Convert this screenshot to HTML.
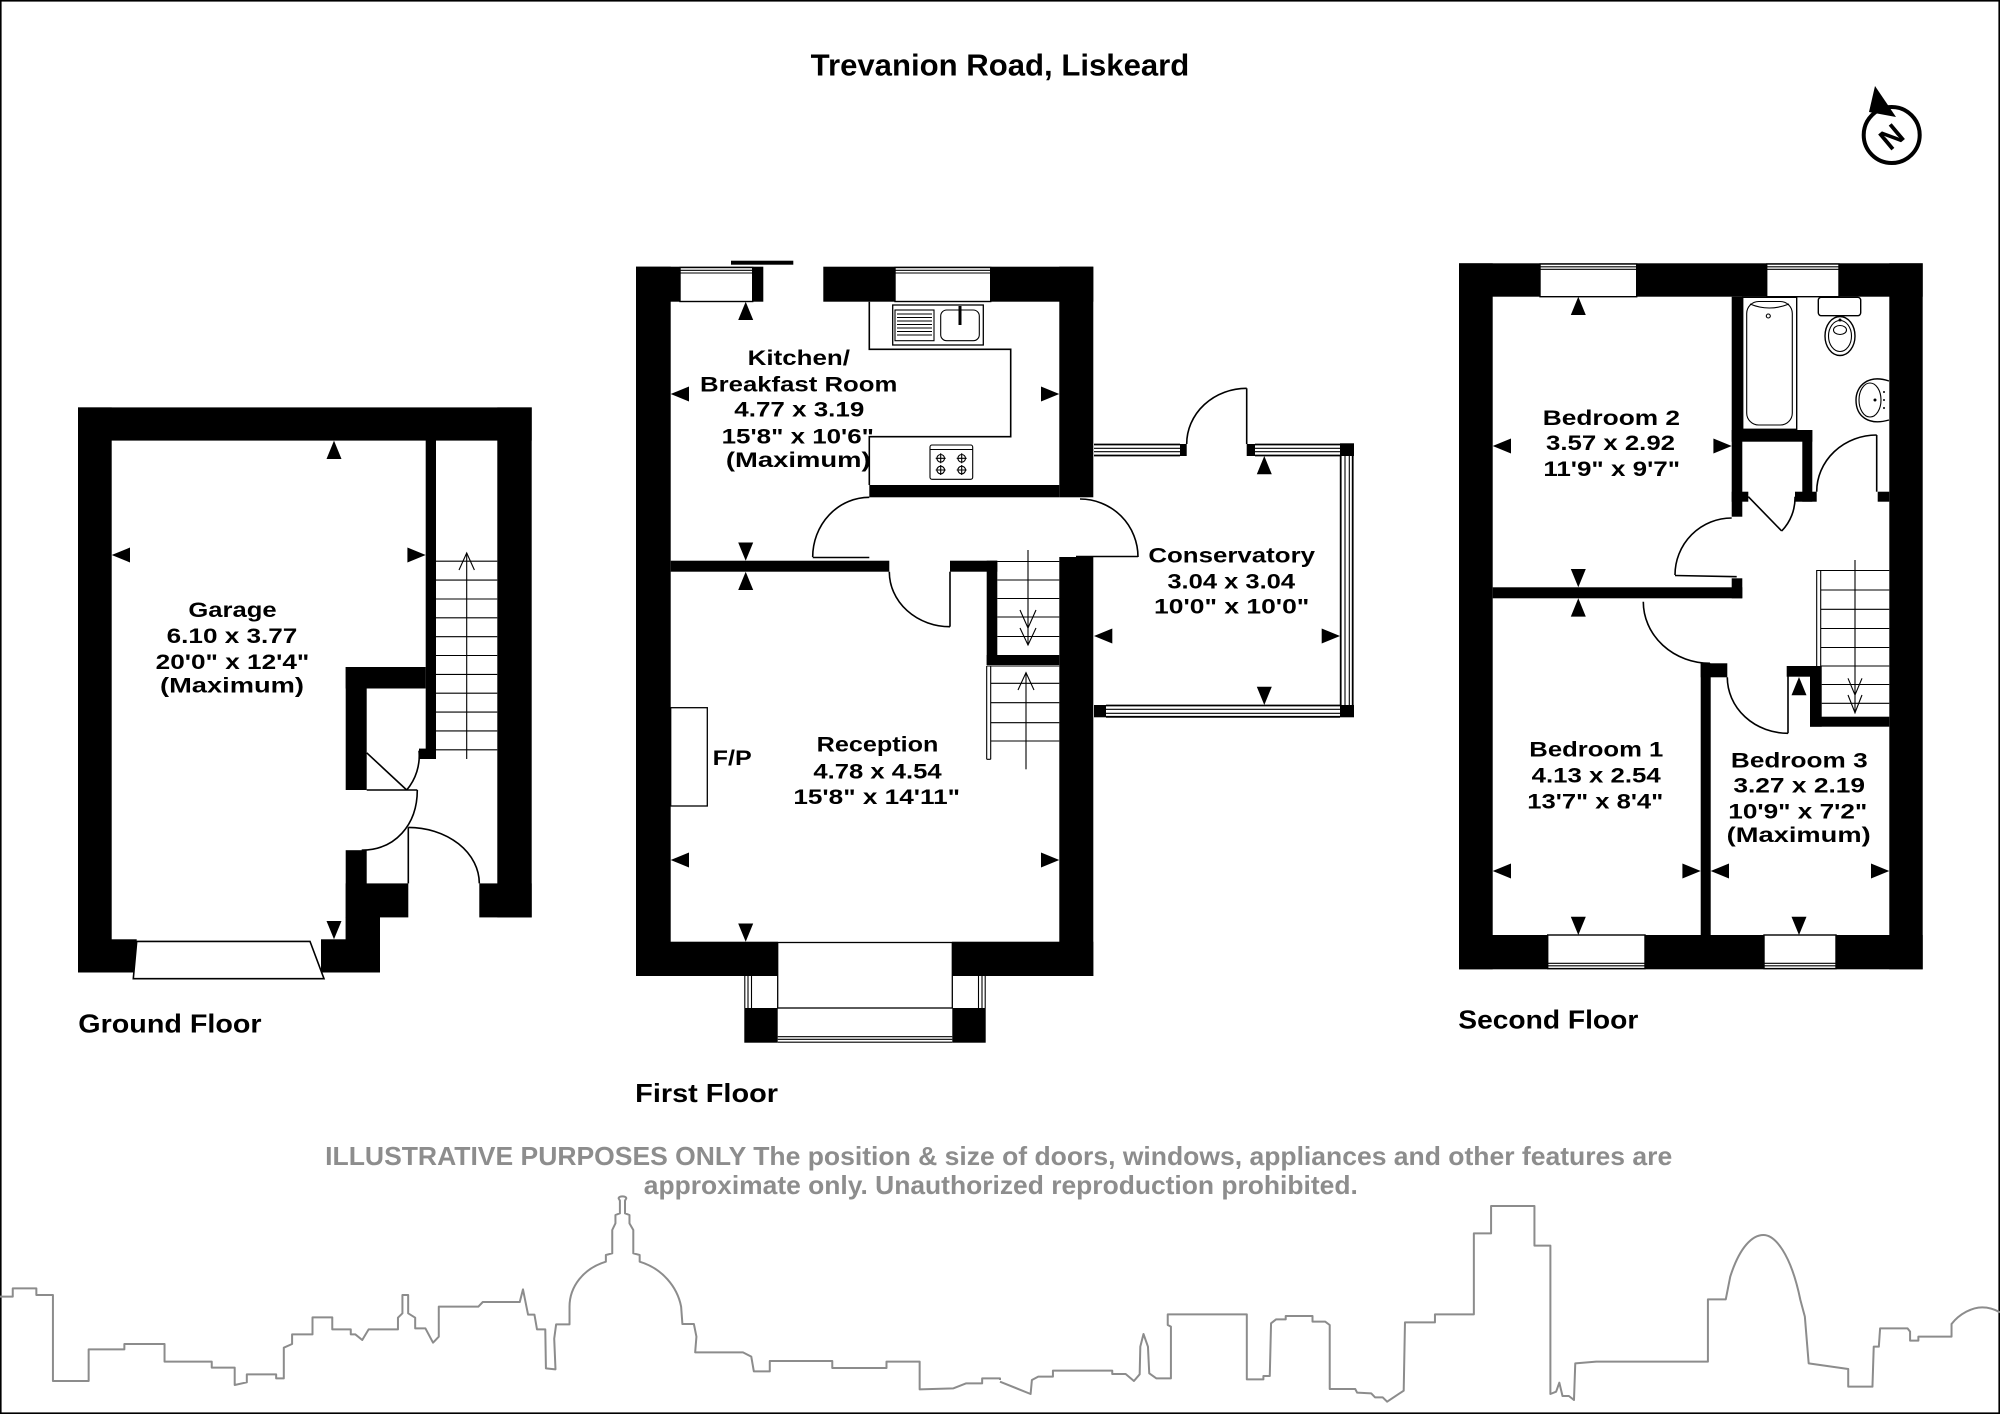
<!DOCTYPE html>
<html><head><meta charset="utf-8"><style>
html,body{margin:0;padding:0;background:#fff;}
svg{display:block}
text{font-family:"Liberation Sans",sans-serif;font-weight:bold;fill:#000;}
.t{font-size:21px;text-anchor:middle;}
.f{font-size:26px;}
.l{stroke:#000;stroke-width:1.6;fill:none;}
.lt{stroke:#000;stroke-width:1.1;fill:none;}
.win{fill:#fff;stroke:#000;stroke-width:1.4;}
.sk{fill:none;stroke:#8c8c8c;stroke-width:2;stroke-linejoin:round;}
.dis{font-size:26px;fill:#8d8d8d;text-anchor:middle;}
</style></head><body>
<svg width="2000" height="1414" viewBox="0 0 2000 1414" xmlns="http://www.w3.org/2000/svg">
<rect x="0" y="0" width="2000" height="1414" fill="#fff"/>
<rect x="0.8" y="0.8" width="1998.4" height="1412.4" fill="none" stroke="#000" stroke-width="1.6"/>

<!-- Title -->
<text x="1000" y="75.7" font-size="31" text-anchor="middle" textLength="378.6" lengthAdjust="spacingAndGlyphs">Trevanion Road, Liskeard</text>

<!-- Compass -->
<circle cx="1891.7" cy="135" r="28" fill="none" stroke="#000" stroke-width="4"/>
<polygon points="1875,86 1869,112 1896,117" fill="#000"/>
<text x="1891.7" y="147" font-size="30" text-anchor="middle" transform="rotate(-40 1891.7 137)">N</text>

<!-- ================= GROUND FLOOR ================= -->
<g fill="#000">
<rect x="78" y="407.4" width="453.7" height="33.2"/>
<rect x="78" y="407.4" width="33.7" height="565.1"/>
<rect x="497.3" y="407.4" width="34.4" height="510"/>
<rect x="479.3" y="883.4" width="52.4" height="34"/>
<rect x="425.7" y="440" width="10.3" height="319"/>
<rect x="419" y="748.6" width="17" height="10.4"/>
<rect x="345.7" y="667" width="80" height="21.5"/>
<rect x="345.7" y="667" width="21" height="123"/>
<rect x="345.7" y="850.2" width="21" height="122.3"/>
<rect x="345.7" y="883.4" width="62.6" height="34"/>
<rect x="345.7" y="917" width="34.3" height="55.5"/>
<rect x="321" y="939.3" width="59" height="33.2"/>
<rect x="78" y="939.3" width="58.7" height="33.2"/>
</g>
<polygon points="136.7,941.4 310,941.4 324,978.7 133.3,978.7" fill="#fff" stroke="#000" stroke-width="1.6"/>
<!-- stairs -->
<g class="lt">
<line x1="436" y1="561.2" x2="497.3" y2="561.2"/>
<line x1="436" y1="580.1" x2="497.3" y2="580.1"/>
<line x1="436" y1="599" x2="497.3" y2="599"/>
<line x1="436" y1="617.8" x2="497.3" y2="617.8"/>
<line x1="436" y1="636.7" x2="497.3" y2="636.7"/>
<line x1="436" y1="655.5" x2="497.3" y2="655.5"/>
<line x1="436" y1="674.4" x2="497.3" y2="674.4"/>
<line x1="436" y1="693.2" x2="497.3" y2="693.2"/>
<line x1="436" y1="712.1" x2="497.3" y2="712.1"/>
<line x1="436" y1="730.9" x2="497.3" y2="730.9"/>
<line x1="436" y1="749.8" x2="497.3" y2="749.8"/>
<line x1="466.7" y1="759" x2="466.7" y2="553"/>
<polyline points="459,570 466.7,553 474.4,570"/>
</g>
<!-- doors -->
<g class="l">
<line x1="366.7" y1="752.8" x2="406.7" y2="790"/>
<path d="M406.7,790 A53,53 0 0 0 419,750.7"/>
<line x1="366.7" y1="790" x2="417.3" y2="790"/>
<path d="M417.3,790 C417.3,825 395,850 361.7,850.2"/>
<line x1="408.3" y1="827.4" x2="408.3" y2="883.4"/>
<path d="M408.3,827.4 A71,56 0 0 1 479.3,883.4"/>
</g>
<!-- markers -->
<g fill="#000">
<polygon points="334,440.6 326.5,459 341.5,459"/>
<polygon points="111.7,555 130,547.5 130,562.5"/>
<polygon points="425.7,555 407.4,547.5 407.4,562.5"/>
<polygon points="334,939.3 326.5,921 341.5,921"/>
</g>
<text class="t" x="232.5" y="617.2" textLength="88.3" lengthAdjust="spacingAndGlyphs">Garage</text>
<text class="t" x="232" y="642.9" textLength="130.7" lengthAdjust="spacingAndGlyphs">6.10 x 3.77</text>
<text class="t" x="232.5" y="669" textLength="153.6" lengthAdjust="spacingAndGlyphs">20'0" x 12'4"</text>
<text class="t" x="232" y="692.6" textLength="144" lengthAdjust="spacingAndGlyphs">(Maximum)</text>
<text class="f" x="78.3" y="1032.6" textLength="183.3" lengthAdjust="spacingAndGlyphs">Ground Floor</text>

<!-- ================= FIRST FLOOR ================= -->
<g fill="#000">
<rect x="636" y="266.7" width="34.7" height="709.3"/>
<rect x="636" y="266.7" width="127.3" height="35"/>
<rect x="823.3" y="266.7" width="270" height="35"/>
<rect x="1059.3" y="266.7" width="34" height="230.6"/>
<rect x="1059.3" y="557" width="34" height="419"/>
<rect x="869.3" y="485" width="190" height="12.3"/>
<rect x="670.7" y="560.7" width="218.6" height="11"/>
<rect x="950" y="560.7" width="47.3" height="11"/>
<rect x="986.7" y="560.7" width="10.6" height="104.3"/>
<rect x="986.7" y="655" width="72.6" height="10"/>
<rect x="636" y="941.7" width="141.7" height="34.3"/>
<rect x="952.3" y="941.7" width="141" height="34.3"/>
<rect x="744.3" y="1008" width="33.4" height="34.7"/>
<rect x="952.3" y="1008" width="33.4" height="34.7"/>
<rect x="731" y="260.7" width="62.3" height="4"/>
</g>
<!-- top windows -->
<rect class="win" x="680" y="267.5" width="72.7" height="34"/>
<line class="lt" x1="680" y1="270.3" x2="752.7" y2="270.3"/>
<line class="lt" x1="680" y1="273" x2="752.7" y2="273"/>
<rect class="win" x="895" y="267.5" width="95.7" height="34"/>
<line class="lt" x1="895" y1="270.3" x2="990.7" y2="270.3"/>
<line class="lt" x1="895" y1="273" x2="990.7" y2="273"/>
<!-- kitchen counter -->
<polyline class="l" points="869.3,301.7 869.3,349.3 1010.7,349.3 1010.7,436.7 869.3,436.7 869.3,485"/>
<!-- sink -->
<rect class="l" x="892.7" y="305" width="90.6" height="40" style="stroke-width:1.3"/>
<rect class="lt" x="895" y="310" width="39" height="30.7"/>
<g class="lt">
<line x1="897" y1="314" x2="932" y2="314"/>
<line x1="897" y1="317.5" x2="932" y2="317.5"/>
<line x1="897" y1="321" x2="932" y2="321"/>
<line x1="897" y1="324.5" x2="932" y2="324.5"/>
<line x1="897" y1="328" x2="932" y2="328"/>
<line x1="897" y1="331.5" x2="932" y2="331.5"/>
<line x1="897" y1="335" x2="932" y2="335"/>
</g>
<rect class="lt" x="940.7" y="310" width="38.6" height="30.7" rx="6"/>
<line x1="960" y1="306" x2="960" y2="325" stroke="#000" stroke-width="3"/>
<!-- hob -->
<rect class="lt" x="930" y="445" width="42.7" height="34.3" rx="2"/>
<line class="lt" x1="930" y1="449.5" x2="972.7" y2="449.5"/>
<g class="lt">
<circle cx="940.7" cy="458.3" r="3.8"/><circle cx="961.7" cy="458.3" r="3.8"/>
<circle cx="940.7" cy="470" r="3.8"/><circle cx="961.7" cy="470" r="3.8"/>
<path d="M935.7,458.3h10M940.7,453.3v10M956.7,458.3h10M961.7,453.3v10M935.7,470h10M940.7,465v10M956.7,470h10M961.7,465v10"/>
</g>
<!-- doors -->
<g class="l">
<path d="M812.7,557 A56.6,59.7 0 0 1 869.3,497.3"/>
<line x1="812.7" y1="557.5" x2="869.3" y2="557.5"/>
<path d="M1080,499 A58,58 0 0 1 1138,557"/>
<line x1="1076" y1="556.5" x2="1138" y2="556.5"/>
<line x1="950" y1="571.7" x2="950" y2="626.7"/>
<path d="M889.3,571.7 A60.7,55 0 0 0 950,626.7"/>
</g>
<!-- stairs -->
<g class="lt">
<line x1="997.3" y1="561.5" x2="1059.3" y2="561.5"/>
<line x1="997.3" y1="580" x2="1059.3" y2="580"/>
<line x1="997.3" y1="598.5" x2="1059.3" y2="598.5"/>
<line x1="997.3" y1="617" x2="1059.3" y2="617"/>
<line x1="997.3" y1="636.5" x2="1059.3" y2="636.5"/>
<line x1="1028" y1="550" x2="1028" y2="645"/>
<polyline points="1020,610 1028,628 1036,610"/>
<polyline points="1020,628 1028,645 1036,628"/>
<line x1="986.7" y1="666" x2="986.7" y2="759.3"/>
<line x1="990.7" y1="666" x2="990.7" y2="759.3"/>
<line x1="986.7" y1="759.3" x2="990.7" y2="759.3"/>
<line x1="986.7" y1="666" x2="1059.3" y2="666"/>
<line x1="990.7" y1="683.3" x2="1059.3" y2="683.3"/>
<line x1="990.7" y1="702.7" x2="1059.3" y2="702.7"/>
<line x1="990.7" y1="722.7" x2="1059.3" y2="722.7"/>
<line x1="990.7" y1="741" x2="1059.3" y2="741"/>
<line x1="1026" y1="769.3" x2="1026" y2="672.7"/>
<polyline points="1018,690 1026,672.7 1034,690"/>
</g>
<!-- F/P -->
<rect class="l" x="670.7" y="707.7" width="36.6" height="98.3" style="stroke-width:1.3"/>
<!-- bay window -->
<rect class="l" x="777.7" y="942.5" width="174.6" height="65.5" style="stroke-width:1.3"/>
<g class="lt">
<line x1="777.7" y1="1036.7" x2="952.3" y2="1036.7"/>
<line x1="777.7" y1="1039.3" x2="952.3" y2="1039.3"/>
<line x1="777.7" y1="1042.2" x2="952.3" y2="1042.2"/>
<line x1="744.8" y1="976" x2="744.8" y2="1008"/>
<line x1="748" y1="976" x2="748" y2="1008"/>
<line x1="751.5" y1="976" x2="751.5" y2="1008"/>
<line x1="985.2" y1="976" x2="985.2" y2="1008"/>
<line x1="982" y1="976" x2="982" y2="1008"/>
<line x1="978.5" y1="976" x2="978.5" y2="1008"/>
</g>
<!-- conservatory -->
<g class="lt">
<line x1="1094" y1="444.5" x2="1180" y2="444.5" style="stroke-width:1.8"/>
<line x1="1094" y1="448.3" x2="1180" y2="448.3"/>
<line x1="1094" y1="451.7" x2="1180" y2="451.7"/>
<line x1="1094" y1="455.5" x2="1180" y2="455.5" style="stroke-width:1.8"/>
<line x1="1255" y1="444.5" x2="1340" y2="444.5" style="stroke-width:1.8"/>
<line x1="1255" y1="448.3" x2="1340" y2="448.3"/>
<line x1="1255" y1="451.7" x2="1340" y2="451.7"/>
<line x1="1255" y1="455.5" x2="1340" y2="455.5" style="stroke-width:1.8"/>
<line x1="1340.7" y1="456" x2="1340.7" y2="705" style="stroke-width:1.8"/>
<line x1="1345" y1="456" x2="1345" y2="705"/>
<line x1="1349.3" y1="456" x2="1349.3" y2="705"/>
<line x1="1352.7" y1="456" x2="1352.7" y2="705" style="stroke-width:1.8"/>
<line x1="1106" y1="705.5" x2="1340" y2="705.5" style="stroke-width:1.8"/>
<line x1="1106" y1="709.3" x2="1340" y2="709.3"/>
<line x1="1106" y1="713.3" x2="1340" y2="713.3"/>
<line x1="1106" y1="716.8" x2="1340" y2="716.8" style="stroke-width:1.8"/>
</g>
<g fill="#000">
<rect x="1180" y="444" width="6.7" height="12"/>
<rect x="1246.7" y="444" width="8.3" height="12"/>
<rect x="1340" y="443.3" width="14" height="12.7"/>
<rect x="1340" y="705" width="14" height="12.3"/>
<rect x="1094" y="705" width="12" height="12.3"/>
</g>
<g class="l">
<line x1="1246.7" y1="388.3" x2="1246.7" y2="444"/>
<path d="M1246.7,388.3 A60,55.7 0 0 0 1186.7,444"/>
</g>
<!-- markers first floor -->
<g fill="#000">
<polygon points="745.7,301.7 738.2,320 753.2,320"/>
<polygon points="670.7,394 689,386.5 689,401.5"/>
<polygon points="1059.3,394 1041,386.5 1041,401.5"/>
<polygon points="745.7,560.7 738.2,542.5 753.2,542.5"/>
<polygon points="745.7,571.7 738.2,590 753.2,590"/>
<polygon points="670.7,860 689,852.5 689,867.5"/>
<polygon points="1059.3,860 1041,852.5 1041,867.5"/>
<polygon points="745.7,941.7 738.2,923.5 753.2,923.5"/>
<polygon points="1264.3,456 1256.8,474.3 1271.8,474.3"/>
<polygon points="1094,636 1112.3,628.5 1112.3,643.5"/>
<polygon points="1340,636 1321.7,628.5 1321.7,643.5"/>
<polygon points="1264.3,705 1256.8,686.7 1271.8,686.7"/>
</g>
<text class="t" x="798.8" y="365" textLength="102.3" lengthAdjust="spacingAndGlyphs">Kitchen/</text>
<text class="t" x="798.7" y="391.7" textLength="197.3" lengthAdjust="spacingAndGlyphs">Breakfast Room</text>
<text class="t" x="799.3" y="416.7" textLength="130" lengthAdjust="spacingAndGlyphs">4.77 x 3.19</text>
<text class="t" x="797.8" y="443.3" textLength="152.3" lengthAdjust="spacingAndGlyphs">15'8" x 10'6"</text>
<text class="t" x="798.3" y="467" textLength="144.7" lengthAdjust="spacingAndGlyphs">(Maximum)</text>
<text class="t" x="877.5" y="751.7" textLength="121.7" lengthAdjust="spacingAndGlyphs">Reception</text>
<text class="t" x="877.5" y="778.3" textLength="128.3" lengthAdjust="spacingAndGlyphs">4.78 x 4.54</text>
<text class="t" x="876.7" y="804" textLength="166.7" lengthAdjust="spacingAndGlyphs">15'8" x 14'11"</text>
<text x="712.7" y="765" font-size="21" textLength="39" lengthAdjust="spacingAndGlyphs">F/P</text>
<text class="t" x="1231.7" y="562.7" textLength="166.7" lengthAdjust="spacingAndGlyphs">Conservatory</text>
<text class="t" x="1231.2" y="588.3" textLength="127.7" lengthAdjust="spacingAndGlyphs">3.04 x 3.04</text>
<text class="t" x="1231.7" y="613.3" textLength="155.3" lengthAdjust="spacingAndGlyphs">10'0" x 10'0"</text>
<text class="f" x="635.2" y="1102" textLength="142.8" lengthAdjust="spacingAndGlyphs">First Floor</text>

<!-- ================= SECOND FLOOR ================= -->
<g fill="#000">
<rect x="1459" y="263.3" width="463.7" height="33.4"/>
<rect x="1459" y="263.3" width="33.7" height="706"/>
<rect x="1889.3" y="263.3" width="33.4" height="706"/>
<rect x="1459" y="935" width="463.7" height="34.3"/>
<rect x="1731.7" y="296.7" width="10.6" height="220"/>
<rect x="1731.7" y="430" width="80.6" height="11.7"/>
<rect x="1802.3" y="430" width="10" height="71.7"/>
<rect x="1795" y="491.7" width="21.7" height="10"/>
<rect x="1731.7" y="491.7" width="16.6" height="10"/>
<rect x="1877.7" y="491.7" width="11.6" height="10"/>
<rect x="1731.7" y="578.3" width="10.6" height="20"/>
<rect x="1492.7" y="587.3" width="249.6" height="11"/>
<rect x="1700.7" y="663.3" width="10" height="271.7"/>
<rect x="1700.7" y="663.3" width="26.6" height="14"/>
<rect x="1786.7" y="666" width="25" height="10.7"/>
<rect x="1810" y="666" width="11.7" height="60.7"/>
<rect x="1810" y="716.7" width="79.3" height="10"/>
</g>
<!-- windows -->
<rect class="win" x="1540" y="264" width="96.7" height="32.7"/>
<line class="lt" x1="1540" y1="266.8" x2="1636.7" y2="266.8"/>
<line class="lt" x1="1540" y1="269.3" x2="1636.7" y2="269.3"/>
<rect class="win" x="1766.7" y="264" width="72.3" height="32.7"/>
<line class="lt" x1="1766.7" y1="266.8" x2="1839" y2="266.8"/>
<line class="lt" x1="1766.7" y1="269.3" x2="1839" y2="269.3"/>
<rect class="win" x="1547.7" y="935" width="97.3" height="33.6"/>
<line class="lt" x1="1547.7" y1="965.8" x2="1645" y2="965.8"/>
<line class="lt" x1="1547.7" y1="963.3" x2="1645" y2="963.3"/>
<rect class="win" x="1764" y="935" width="72" height="33.6"/>
<line class="lt" x1="1764" y1="965.8" x2="1836" y2="965.8"/>
<line class="lt" x1="1764" y1="963.3" x2="1836" y2="963.3"/>
<!-- bathroom fittings -->
<rect class="lt" x="1742.7" y="297.3" width="54" height="132" style="stroke-width:1.4"/>
<rect class="lt" x="1746.7" y="301.5" width="45.6" height="123.5" rx="12"/>
<path class="lt" d="M1750,304 Q1769,312 1789,304"/>
<circle class="lt" cx="1768.3" cy="316" r="2"/>
<rect class="lt" x="1818.3" y="297.3" width="42.4" height="18.4" rx="3" style="stroke-width:1.4"/>
<ellipse class="lt" cx="1840" cy="336" rx="15" ry="19.5" style="stroke-width:1.4"/>
<ellipse class="lt" cx="1840" cy="336" rx="11.5" ry="15.5"/>
<ellipse class="lt" cx="1840" cy="330" rx="6.5" ry="4.5"/>
<circle cx="1840" cy="320" r="1.5" fill="#000"/>
<path class="lt" d="M1889,381 C1868,374 1856,386 1856,400 C1856,416 1868,426 1889,420" style="stroke-width:1.4"/>
<ellipse class="lt" cx="1870" cy="400" rx="11" ry="17"/>
<circle cx="1875" cy="400" r="1.5" fill="#000"/>
<circle cx="1884" cy="392" r="1" fill="#000"/><circle cx="1884" cy="400" r="1" fill="#000"/><circle cx="1884" cy="408" r="1" fill="#000"/>
<!-- doors -->
<g class="l">
<path d="M1731.7,518 A56.7,57 0 0 0 1675,575"/>
<line x1="1675" y1="575.5" x2="1736.7" y2="576.7"/>
<line x1="1876.7" y1="435" x2="1876.7" y2="491.7"/>
<path d="M1876.7,435 A60,56.7 0 0 0 1816.7,491.7"/>
<line x1="1748.3" y1="496.7" x2="1781.7" y2="531"/>
<path d="M1781.7,531 A47.5,47.5 0 0 0 1795,496.7"/>
<path d="M1643.3,601.7 A66.7,61.6 0 0 0 1710,663.3"/>
<line x1="1788" y1="666.7" x2="1788" y2="733.3"/>
<path d="M1727.3,677.3 A60.7,56 0 0 0 1788,733.3"/>
</g>
<!-- stairs -->
<g class="lt">
<line x1="1816.7" y1="570" x2="1816.7" y2="666"/>
<line x1="1820.7" y1="570" x2="1820.7" y2="666"/>
<line x1="1816.7" y1="570.5" x2="1889.3" y2="570.5"/>
<line x1="1820.7" y1="590" x2="1889.3" y2="590"/>
<line x1="1820.7" y1="609.3" x2="1889.3" y2="609.3"/>
<line x1="1820.7" y1="628.5" x2="1889.3" y2="628.5"/>
<line x1="1820.7" y1="647.5" x2="1889.3" y2="647.5"/>
<line x1="1820.7" y1="666" x2="1889.3" y2="666"/>
<line x1="1821.7" y1="684.5" x2="1889.3" y2="684.5"/>
<line x1="1821.7" y1="703.3" x2="1889.3" y2="703.3"/>
<line x1="1855" y1="560" x2="1855" y2="713.3"/>
<polyline points="1848,678.3 1855,695 1862,678.3"/>
<polyline points="1848,695 1855,712.7 1862,695"/>
</g>
<!-- markers second floor -->
<g fill="#000">
<polygon points="1578.3,296.7 1570.8,315 1585.8,315"/>
<polygon points="1492.7,446 1511,438.5 1511,453.5"/>
<polygon points="1731.7,446 1713.4,438.5 1713.4,453.5"/>
<polygon points="1578.3,587.3 1570.8,569 1585.8,569"/>
<polygon points="1578.3,598.3 1570.8,616.6 1585.8,616.6"/>
<polygon points="1492.7,871 1511,863.5 1511,878.5"/>
<polygon points="1700.7,871 1682.4,863.5 1682.4,878.5"/>
<polygon points="1578.3,935 1570.8,916.7 1585.8,916.7"/>
<polygon points="1799,677 1791.5,695.3 1806.5,695.3"/>
<polygon points="1710.7,871 1729,863.5 1729,878.5"/>
<polygon points="1889.3,871 1871,863.5 1871,878.5"/>
<polygon points="1799,935 1791.5,916.7 1806.5,916.7"/>
</g>
<text class="t" x="1611.4" y="425" textLength="137.3" lengthAdjust="spacingAndGlyphs">Bedroom 2</text>
<text class="t" x="1610.5" y="450" textLength="129" lengthAdjust="spacingAndGlyphs">3.57 x 2.92</text>
<text class="t" x="1611.7" y="476" textLength="136.7" lengthAdjust="spacingAndGlyphs">11'9" x 9'7"</text>
<text class="t" x="1596.3" y="756.7" textLength="134" lengthAdjust="spacingAndGlyphs">Bedroom 1</text>
<text class="t" x="1596.2" y="782.3" textLength="129" lengthAdjust="spacingAndGlyphs">4.13 x 2.54</text>
<text class="t" x="1595.3" y="808.3" textLength="136" lengthAdjust="spacingAndGlyphs">13'7" x 8'4"</text>
<text class="t" x="1799.3" y="767.3" textLength="136.7" lengthAdjust="spacingAndGlyphs">Bedroom 3</text>
<text class="t" x="1799.2" y="792.3" textLength="131.7" lengthAdjust="spacingAndGlyphs">3.27 x 2.19</text>
<text class="t" x="1797.8" y="818.3" textLength="139" lengthAdjust="spacingAndGlyphs">10'9" x 7'2"</text>
<text class="t" x="1798.7" y="842" textLength="144" lengthAdjust="spacingAndGlyphs">(Maximum)</text>
<text class="f" x="1458.3" y="1028.3" textLength="180" lengthAdjust="spacingAndGlyphs">Second Floor</text>

<!-- Disclaimer -->
<text class="dis" x="998.7" y="1165" textLength="1347" lengthAdjust="spacingAndGlyphs">ILLUSTRATIVE PURPOSES ONLY  The position &amp; size of doors, windows, appliances and other features are</text>
<text class="dis" x="1000.8" y="1194" textLength="714" lengthAdjust="spacingAndGlyphs">approximate only. Unauthorized reproduction prohibited.</text>

<!-- Skyline -->
<g transform="translate(0,1180) scale(0.63776,0.33333)">
<path class="sk" vector-effect="non-scaling-stroke" d="M0,350 L20,350 L20,325 L57,325 L57,345 L83,345 L83,603 L139,603 L139,508 L195,508 L195,492 L258,492 L258,545 L332,545 L332,563 L368,563 L368,615 L387,607 L387,583 L433,583 L433,595 L445,595 L445,503 L458,492 L458,463 L490,463 L490,412 L521,412 L521,448 L550,448 L550,463 L557,463 L568,480 L578,448 L624,448 L624,413 L631,400 L631,345 L640,345 L640,400 L651,413 L651,445 L667,445 L679,488 L688,470 L688,380 L750,380 L757,366 L815,366 L820,328 L828,404 L838,404 L842,448 L855,448 L856,565 L871,568 L869,476 L872,433 L893,433 L893,380 C893,320 915,265 950,245 L950,225 L960,220 L960,150 L965,130 L965,105 L972,100 L972,62 L970,55 A6,6 0 1 1 982,55 L980,62 L980,100 L987,105 L987,130 L993,150 L993,220 L1003,225 L1003,245 C1038,265 1062,320 1068,380 L1070,432 L1088,432 L1092,470 L1090,517 L1165,517 L1178,530 L1182,574 L1207,574 L1207,543 L1305,543 L1305,564 L1390,564 L1390,545 L1442,545 L1442,628 L1495,625 L1515,610 L1540,610 L1540,595 L1568,595 L1568,600"/>
</g>
<g transform="translate(1000,1180) scale(0.63776,0.33333)">
<path class="sk" vector-effect="non-scaling-stroke" d="M0,605 L48,642 L50,600 L60,590 L83,590 L83,572 L176,572 L176,582 L197,582 L210,603 L219,583 L220,500 L225,462 L232,500 L234,580 L245,595 L268,595 L268,440 L263,435 L263,403 L387,403 L387,598 L413,598 L413,588 L423,588 L425,430 L433,418 L448,418 L448,408 L490,408 L490,425 L510,425 L517,435 L517,627 L557,627 L560,638 L582,640 L588,652 L600,652 L607,665 L633,632 L635,427 L682,427 L682,403 L743,403 L743,160 L770,160 L770,78 L838,78 L838,197 L863,197 L863,642 L872,635 L877,608 L882,648 L892,648 L900,660 L902,550 L935,545 L1110,545 L1110,358 L1138,358 L1145,290 C1160,200 1180,165 1197,165 C1215,165 1240,220 1255,360 L1262,410 L1268,550 L1330,567 L1330,620 L1368,620 L1370,500 L1378,500 L1380,445 L1423,445 L1427,455 L1427,482 L1440,482 L1440,470 L1492,470 L1492,432 C1505,400 1525,382 1540,382 C1550,382 1560,388 1568,397"/>
</g>
</svg>
</body></html>
